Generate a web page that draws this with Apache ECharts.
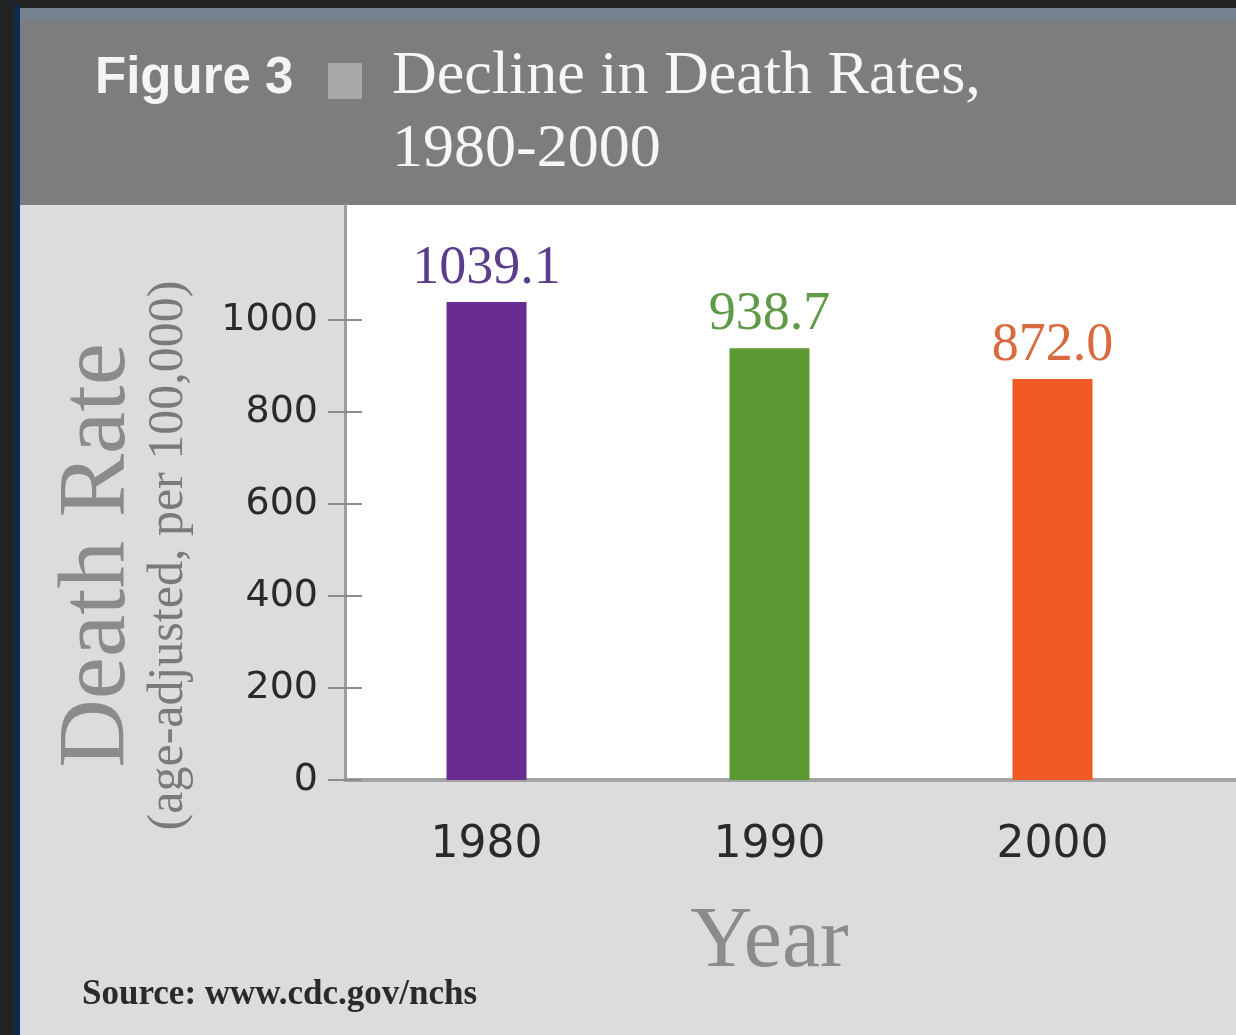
<!DOCTYPE html>
<html>
<head>
<meta charset="utf-8">
<title>Decline in Death Rates, 1980-2000</title>
<script src="https://cdn.jsdelivr.net/npm/echarts@6/dist/echarts.min.js"></script>
<style>
  html, body { margin: 0; padding: 0; background: #222325; }
  #chart { width: 1236px; height: 1035px; }
</style>
</head>
<body>
<div id="chart"></div>
<script>
  // data
  var years = ['1980', '1990', '2000'];
  var rates = [1039.1, 938.7, 872.0];
  var yTicks = [0, 200, 400, 600, 800, 1000];
  var barColors = ['#6a2c91', '#5b9a32', '#f15a22'];
  var labelColors = ['#5b3d8d', '#5f9a48', '#d9693e'];

  var chart = echarts.init(document.getElementById('chart'));

  chart.setOption({
    backgroundColor: '#222325',
    animation: false,
    graphic: [
      // frame + panels
      { type: 'rect', z: -10, shape: { x: 14, y: 5, width: 6, height: 1030 }, style: { fill: '#0e2a4e' } },
      { type: 'rect', z: -10, shape: { x: 20, y: 8, width: 1216, height: 13 }, style: { fill: '#75828f' } },
      { type: 'rect', z: -10, shape: { x: 20, y: 20, width: 1216, height: 185 }, style: { fill: '#7c7d7f' } },
      { type: 'rect', z: -10, shape: { x: 20, y: 205, width: 1216, height: 830 }, style: { fill: '#dcdcdf' } },
      { type: 'rect', z: -9, shape: { x: 345, y: 205, width: 891, height: 575 }, style: { fill: '#ffffff' } },
      { type: 'line', z: -8, shape: { x1: 1188, y1: 780, x2: 1236, y2: 780 }, style: { stroke: '#a3a3a5', lineWidth: 4 } },
      // header
      { type: 'text', x: 95, y: 79, style: { text: 'Figure 3', font: 'bold 51px "Liberation Sans"', fill: '#f4f4f4', verticalAlign: 'middle' } },
      { type: 'rect', shape: { x: 328, y: 63, width: 34, height: 36 }, style: { fill: '#a9a9ab' } },
      { type: 'text', x: 392, y: 77, style: { text: 'Decline in Death Rates,', font: '62px "Liberation Serif"', fill: '#f6f6f6', verticalAlign: 'middle' } },
      { type: 'text', x: 392, y: 150, style: { text: '1980-2000', font: '62px "Liberation Serif"', fill: '#f6f6f6', verticalAlign: 'middle' } },
      // source
      { type: 'text', x: 82, y: 995, style: { text: 'Source: www.cdc.gov/nchs', font: 'bold 35px "Liberation Serif"', fill: '#2a2a2a', verticalAlign: 'middle' } }
    ],
    grid: { left: 345, right: 42, top: 205, bottom: 255 },
    xAxis: {
      type: 'category',
      data: years,
      axisLine: { lineStyle: { color: '#a3a3a5', width: 4 } },
      axisTick: { show: false },
      axisLabel: { margin: 44, fontFamily: 'DejaVu Sans', fontSize: 44, color: '#2a2a2a' },
      splitLine: { show: false },
      name: 'Year',
      nameLocation: 'middle',
      nameGap: 120,
      nameTextStyle: { fontFamily: 'Liberation Serif', fontSize: 86, color: '#8b8b8e' }
    },
    yAxis: [
      {
        // shifted 17px into the plot so the 34px ticks cross the plot edge
        type: 'value',
        min: 0,
        max: 1250,
        position: 'left',
        offset: -17,
        zlevel: 1,
        z: 10,
        axisLine: { show: false },
        axisTick: { show: true, length: 34, customValues: yTicks, lineStyle: { color: '#8c8c8e', width: 2 } },
        axisLabel: {
          customValues: yTicks, margin: 44, fontFamily: 'DejaVu Sans', fontSize: 38, color: '#2a2a2a',
          formatter: function (v) { return String(v); }
        },
        splitLine: { show: false },
        name: '{a|Death Rate}\n{b|(age-adjusted, per 100,000)}',
        nameLocation: 'middle',
        nameRotate: 90,
        nameGap: 167,
        nameTextStyle: {
          padding: [0, 126, 0, 0],
          rich: {
            a: { fontFamily: 'Liberation Serif', fontSize: 95, lineHeight: 88, color: '#8b8b8e' },
            b: { fontFamily: 'Liberation Serif', fontSize: 50, lineHeight: 52, color: '#7a7a7c' }
          }
        }
      },
      {
        // plain copy that only draws the left edge line
        type: 'value',
        min: 0,
        max: 1250,
        position: 'left',
        z: 10,
        axisLine: { show: true, lineStyle: { color: '#9c9c9e', width: 3 } },
        axisTick: { show: false },
        axisLabel: { show: false },
        splitLine: { show: false }
      }
    ],
    series: [{
      type: 'bar',
      barWidth: 80,
      data: rates.map(function (v, i) {
        return { value: v, itemStyle: { color: barColors[i] }, label: { color: labelColors[i] } };
      }),
      label: {
        show: true,
        position: 'top',
        distance: 6,
        fontFamily: 'Liberation Serif',
        fontSize: 54,
        formatter: function (p) { return p.value.toFixed(1); }
      }
    }]
  });
</script>
</body>
</html>
